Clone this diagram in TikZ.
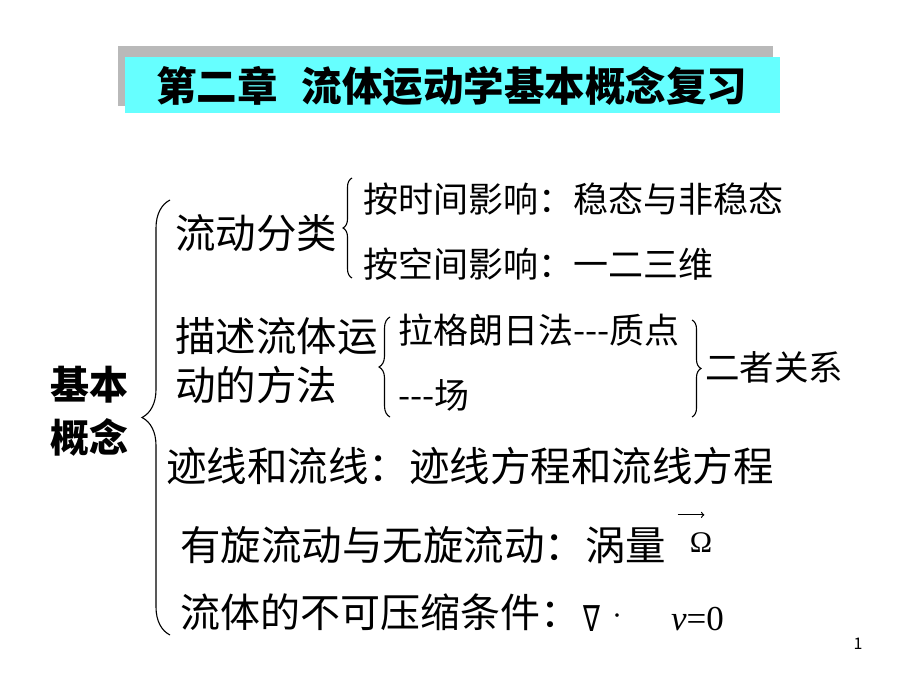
\documentclass[tikz,border=0pt]{standalone}
\usepackage{fontspec}
\usepackage{amssymb, amsmath}
\usepackage{tikz}
\usetikzlibrary{decorations.pathreplacing, calc}
\newfontfamily\cjk{Noto Sans CJK SC}
\newfontfamily\tnr{Liberation Serif}
\newfontfamily\symb{DejaVu Sans}
\definecolor{titlecyan}{RGB}{102, 255, 255}
\definecolor{shadowgray}{RGB}{185, 185, 185}
\tikzset{
  txt/.style={anchor=west, inner sep=0pt, font=\cjk\fontsize{40.5}{40.5}\selectfont},
  txtsmall/.style={anchor=west, inner sep=0pt, font=\cjk\fontsize{35}{35}\selectfont},
  curly/.style={decorate, decoration={brace, amplitude=#1}, line width=1.1pt},
}

\begin{document}
\begin{tikzpicture}[x=1pt, y=-1pt]
  \useasboundingbox (0, 0) rectangle (920, 690);

  % title box with its shadow
  \fill[color=shadowgray] (118, 46) rectangle (773, 106);
  \fill[color=titlecyan] (125, 57) rectangle (780, 113);
  \node[txt, font=\cjk\bfseries\fontsize{40.5}{40.5}\selectfont] (title) at (156, 86) {第二章\hspace{24pt}流体运动学基本概念复习};

  \node[txt, font=\cjk\bfseries\fontsize{39}{39}\selectfont] (jiben) at (50, 385) {基本};
  \node[txt, font=\cjk\bfseries\fontsize{39}{39}\selectfont] (gainian) at (50, 437) {概念};

  % first level
  \node[txt] (fenlei) at (175, 233) {流动分类};
  \node[txt] (miaoshu1) at (175, 336) {描述流体运};
  \node[txt] (miaoshu2) at (175, 385) {动的方法};
  \node[txt] (jixian) at (166, 466) {迹线和流线：迹线方程和流线方程};
  \node[txt] (youxuan) at (180, 545) {有旋流动与无旋流动：涡量};
  \node[txt, font=\cjk\fontsize{40}{40}\selectfont] (buke) at (180, 612) {流体的不可压缩条件：};

  % second level
  \node[txtsmall] (shijian) at (363, 199) {按时间影响：稳态与非稳态};
  \node[txtsmall] (kongjian) at (363, 264) {按空间影响：一二三维};
  \node[txtsmall] (lagelang) at (398, 330) {拉格朗日法-\kern0pt-\kern0pt-质点};
  \node[txtsmall] (chang) at (398, 395) {-\kern0pt-\kern0pt-场};
  \node[txtsmall, font=\cjk\fontsize{34.5}{34.5}\selectfont] (guanxi) at (705, 367) {二者关系};

  % formulas
  \node[inner sep=0pt, font=\tnr\fontsize{30}{30}\selectfont] (omega) at (701, 543) {Ω};
  \draw[->, line width=1.2pt] ($(omega.north west) + (-12, -18)$) -- ($(omega.north east) + (-8, -18)$);
  \node[inner sep=0pt, xscale=0.7, font=\symb\fontsize{36}{36}\selectfont] (nabla) at (592, 619) {∇};
  \node[inner sep=0pt, font=\tnr\fontsize{30}{30}\selectfont] (dot) at (617, 620) {·};
  \node[anchor=west, inner sep=0pt, font=\tnr\fontsize{35}{35}\selectfont] (vzero) at (671, 619) {\textit{v}=0};

  % braces
  \coordinate (b1top) at (170, 200);
  \coordinate (b1bot) at (170, 635);
  \coordinate (b2top) at (352, 178);
  \coordinate (b2bot) at (352, 278);
  \coordinate (b3top) at (390, 317);
  \coordinate (b3bot) at (390, 417);
  \coordinate (b4top) at (692, 320);
  \coordinate (b4bot) at (692, 417);
  \draw[curly=28] (b1bot) -- (b1top);
  \draw[curly=9] (b2bot) -- (b2top);
  \draw[curly=11] (b3bot) -- (b3top);
  \draw[curly=9] (b4top) -- (b4bot);

  \node[inner sep=0pt, font=\cjk\fontsize{16}{16}\selectfont] (page) at (858, 644) {1};
\end{tikzpicture}
\end{document}
